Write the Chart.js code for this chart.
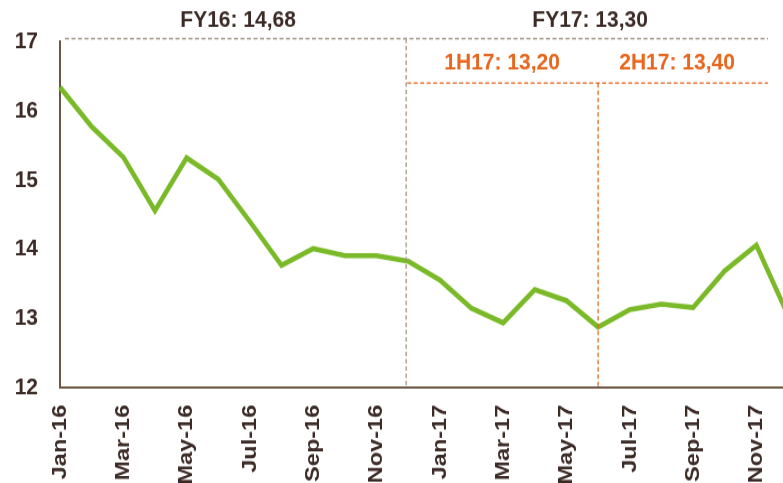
<!DOCTYPE html>
<html lang="en">
<head>
    <meta charset="UTF-8">
    <title>Monthly rate</title>
    <script src="https://cdn.jsdelivr.net/npm/chart.js"></script>
    <style>
        html {
            overflow: hidden;
        }
        body {
            margin: 0;
            padding: 0;
            height: 483px;
            background: #fff;
        }
        /* the source picture is a bit stretched vertically */
        .chart-box {
            width: 800px;
            height: 431px;
            transform: scaleY(1.12);
            transform-origin: top left;
        }
    </style>
</head>
<body>
    <div class="chart-box">
        <canvas id="rateChart"></canvas>
    </div>

    <script>
        // data
        const months = ['Jan-16', 'Feb-16', 'Mar-16', 'Apr-16', 'May-16', 'Jun-16',
                        'Jul-16', 'Aug-16', 'Sep-16', 'Oct-16', 'Nov-16', 'Dec-16',
                        'Jan-17', 'Feb-17', 'Mar-17', 'Apr-17', 'May-17', 'Jun-17',
                        'Jul-17', 'Aug-17', 'Sep-17', 'Oct-17', 'Nov-17', 'Dec-17'];
        const rates = [16.34, 15.77, 15.33, 14.56, 15.32, 15.01,
                       14.40, 13.77, 14.01, 13.91, 13.91, 13.83,
                       13.56, 13.15, 12.94, 13.42, 13.26, 12.88,
                       13.13, 13.21, 13.16, 13.69, 14.06, 13.05];
        const yTicks = [12, 13, 14, 15, 16, 17];
        const fyLabels = ['FY16: 14,68', 'FY17: 13,30'];
        const halfLabels = ['1H17: 13,20', '2H17: 13,40'];

        const dark = '#3b2a25';
        const axisBrown = '#6b5744';
        const orange = '#e8661e';
        const grayDash = '#a39483';
        const font = '"Liberation Sans", Arial, sans-serif';

        // dashed period boxes + their labels
        const periodPlugin = {
            id: 'periods',
            afterDatasetsDraw(chart) {
                const { ctx, chartArea, scales: { x, y } } = chart;
                const fyTop = y.getPixelForValue(17.04);
                const halfTop = y.getPixelForValue(16.4);
                const bottom = chartArea.bottom;
                const xSplitFY = x.getPixelForValue(11) - 2;   // Dec-16
                const xSplitH = x.getPixelForValue(17);        // Jun-17
                const xEnd = chartArea.right - 20;

                ctx.save();
                ctx.lineWidth = 1.3;
                ctx.setLineDash([4, 2.5]);

                ctx.strokeStyle = grayDash;
                ctx.beginPath();
                ctx.moveTo(chartArea.left + 5, fyTop);
                ctx.lineTo(xEnd, fyTop);
                ctx.moveTo(xSplitFY, fyTop);
                ctx.lineTo(xSplitFY, bottom);
                ctx.stroke();

                ctx.strokeStyle = orange;
                ctx.beginPath();
                ctx.moveTo(xSplitFY + 1, halfTop);
                ctx.lineTo(xEnd, halfTop);
                ctx.moveTo(xSplitH, halfTop);
                ctx.lineTo(xSplitH, bottom);
                ctx.stroke();
                ctx.setLineDash([]);

                ctx.font = 'bold 21px ' + font;
                ctx.textAlign = 'center';
                ctx.textBaseline = 'middle';
                ctx.fillStyle = dark;
                ctx.fillText(fyLabels[0], (chartArea.left + xSplitFY) / 2 + 5, fyTop - 16.5);
                ctx.fillText(fyLabels[1], (xSplitFY + xEnd) / 2 + 3, fyTop - 16.5);

                ctx.fillStyle = orange;
                ctx.fillText(halfLabels[0], (xSplitFY + xSplitH) / 2, halfTop - 17.5);
                ctx.fillText(halfLabels[1], (xSplitH + xEnd) / 2 - 6, halfTop - 17.5);
                ctx.restore();
            }
        };

        new Chart(document.getElementById('rateChart'), {
            type: 'line',
            data: {
                labels: months,
                datasets: [{
                    label: 'Rate',
                    data: rates,
                    borderColor: '#7aba28',
                    borderWidth: 4.6,
                    pointRadius: 0,
                    tension: 0,
                    fill: false
                }]
            },
            options: {
                responsive: true,
                maintainAspectRatio: false,
                animation: false,
                layout: {
                    padding: { top: 37, right: 12, left: 0, bottom: 0 }
                },
                plugins: {
                    legend: { display: false },
                    tooltip: { enabled: false }
                },
                scales: {
                    x: {
                        offset: false,
                        grid: { display: false, drawTicks: false },
                        border: { display: true, color: axisBrown, width: 2 },
                        ticks: {
                            autoSkip: false,
                            minRotation: 90,
                            maxRotation: 90,
                            padding: 15,
                            color: dark,
                            font: { family: font, size: 21, weight: 'bold' },
                            callback: (v, i) => (i % 2 === 0 ? months[i] : '')
                        },
                        afterFit: (scale) => {
                            scale.height = 84.6;
                            scale.paddingLeft = 0;
                            scale.paddingRight = 0;
                        }
                    },
                    y: {
                        min: yTicks[0],
                        max: yTicks[yTicks.length - 1],
                        grid: { display: false, drawTicks: false },
                        border: { display: true, color: axisBrown, width: 2 },
                        afterBuildTicks: (scale) => {
                            scale.ticks = yTicks.map(v => ({ value: v }));
                        },
                        ticks: {
                            padding: 22,
                            color: dark,
                            font: { family: font, size: 21, weight: 'bold' }
                        },
                        afterFit: (scale) => {
                            scale.width = 60;
                            scale.paddingTop = 0;
                            scale.paddingBottom = 0;
                        }
                    }
                }
            },
            plugins: [periodPlugin]
        });
    </script>
</body>
</html>
